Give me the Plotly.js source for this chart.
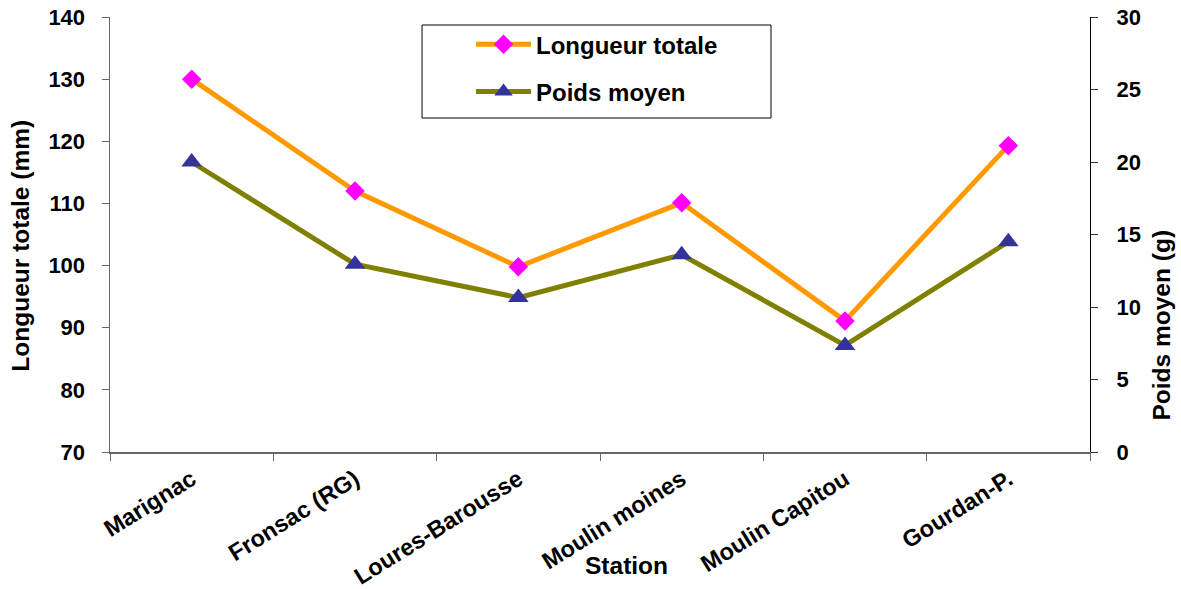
<!DOCTYPE html>
<html>
<head>
<meta charset="utf-8">
<script src="https://cdn.plot.ly/plotly-3.0.1.min.js"></script>
<style>html,body{margin:0;padding:0;background:#fff;}#chart{width:1181px;height:589px;}</style>
</head>
<body>
<div id="chart"></div>
<script>
const stations = ["Marignac", "Fronsac (RG)", "Loures-Barousse", "Moulin moines", "Moulin Capitou", "Gourdan-P."];
const longueurTotale = [130.0, 112.0, 99.8, 110.1, 91.1, 119.3];
const poidsMoyen = [20.0, 12.95, 10.65, 13.6, 7.35, 14.5];
const leftTicks = [70, 80, 90, 100, 110, 120, 130, 140];
const rightTicks = [0, 5, 10, 15, 20, 25, 30];

const FAM = "Liberation Sans, Arial, sans-serif";
const FN = {family: FAM, size: 22, weight: 700, color: "#000"};   // numbers
const FT = {family: FAM, size: 24.5, weight: 700, color: "#000"}; // titles
const FC = {family: FAM, size: 23.5, weight: 700, color: "#000"}; // categories

const traces = [
  {
    x: stations, y: longueurTotale, name: "Longueur totale", type: "scatter", mode: "lines+markers",
    yaxis: "y", legendgroup: "a",
    line: {color: "#FF9900", width: 5},
    marker: {symbol: "diamond", size: 15, color: "#FF00FF"}
  },
  {
    x: stations, y: poidsMoyen, name: "Poids moyen", type: "scatter", mode: "lines+markers",
    yaxis: "y2", legendgroup: "b",
    line: {color: "#808000", width: 5},
    marker: {symbol: "triangle-up", size: 18, color: "#333399"}
  }
];

const layout = {
  width: 1181, height: 589,
  margin: {l: 110, r: 91, t: 17, b: 137},
  paper_bgcolor: "#fff", plot_bgcolor: "#fff",
  font: FN,
  showlegend: true,
  legend: {
    x: 0.3684, y: 0.988, xanchor: "left", yanchor: "top",
    borderwidth: 0, bgcolor: "rgba(0,0,0,0)",
    font: {family: FAM, size: 24, weight: 700, color: "#000"},
    tracegroupgap: 13, itemwidth: 55
  },
  shapes: [
    {type: "rect", xref: "paper", yref: "paper", x0: 0.3184, x1: 0.6745, y0: 0.7678, y1: 0.9816,
     line: {color: "#000", width: 1}, fillcolor: "#fff", layer: "below"}
  ],
  xaxis: {
    type: "category", tickson: "boundaries", ticks: "outside", ticklen: 7, tickcolor: "#666",
    tickangle: -32, showline: true, linecolor: "#666", linewidth: 1.5, showgrid: false, zeroline: false,
    tickfont: FC, range: [-0.5, 5.5], ticklabelstandoff: 3
  },
  xaxis2: {
    overlaying: "x", anchor: "y", type: "linear", range: [-0.5, 5.5],
    tickmode: "array", tickvals: [-0.5, 0.5, 1.5, 2.5, 3.5, 4.5, 5.5],
    ticks: "inside", ticklen: 7, tickcolor: "#666", showticklabels: false,
    showline: false, showgrid: false, zeroline: false
  },
  yaxis: {
    range: [70, 140], tickmode: "array", tickvals: leftTicks, ticks: "outside", ticklen: 7, tickcolor: "#666",
    showline: true, linecolor: "#666", linewidth: 1.5, showgrid: false, zeroline: false,
    tickfont: FN, ticklabelstandoff: 12
  },
  yaxis2: {
    range: [0, 30], overlaying: "y", side: "right", anchor: "x",
    tickmode: "array", tickvals: rightTicks, ticks: "outside", ticklen: 7, tickcolor: "#333",
    showline: true, linecolor: "#000", linewidth: 1.2, showgrid: false, zeroline: false,
    tickfont: FN, ticklabelstandoff: 14
  },
  yaxis3: {
    range: [70, 140], overlaying: "y", side: "left", anchor: "x",
    tickmode: "array", tickvals: leftTicks, ticks: "inside", ticklen: 7, tickcolor: "#666",
    showticklabels: false, showline: false, showgrid: false, zeroline: false
  },
  yaxis4: {
    range: [0, 30], overlaying: "y", side: "right", anchor: "x",
    tickmode: "array", tickvals: rightTicks, ticks: "inside", ticklen: 7, tickcolor: "#333",
    showticklabels: false, showline: false, showgrid: false, zeroline: false
  },
  annotations: [
    {text: "Station", xref: "paper", yref: "paper", x: 0.527, y: -0.26, xanchor: "center", yanchor: "middle",
     showarrow: false, font: FT},
    {text: "Longueur totale (mm)", xref: "paper", yref: "paper", x: -0.091, y: 0.474, xanchor: "center", yanchor: "middle",
     textangle: -90, showarrow: false, font: FT},
    {text: "Poids moyen (g)", xref: "paper", yref: "paper", x: 1.073, y: 0.292, xanchor: "center", yanchor: "middle",
     textangle: -90, showarrow: false, font: FT}
  ]
};

Plotly.newPlot("chart", traces, layout, {displayModeBar: false, staticPlot: true});
</script>
</body>
</html>
